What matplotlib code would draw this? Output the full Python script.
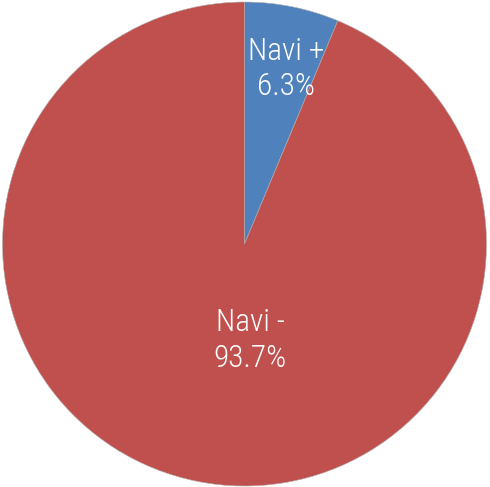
import matplotlib.pyplot as plt

labels = ["Navi +", "Navi -"]
shares = [6.3, 93.7]
colors = ["#4F81BD", "#C0504D"]
# label anchor points, in pie-radius units
label_pos = [(0.171, 0.723), (0.023, -0.40)]

W, H = 490, 487
cx, cy, r = 244.5, 244.0, 242.0

fig = plt.figure(figsize=(W / 100, H / 100), dpi=100)
ax = fig.add_axes([0, 0, 1, 1])
ax.pie(shares, colors=colors, startangle=90, counterclock=False, radius=1,
       wedgeprops=dict(edgecolor="#b0b0b0", linewidth=0.4))
for lab, s, (x, y) in zip(labels, shares, label_pos):
    ax.text(x, y, f"{lab}\n{s:.1f}%", color="white", fontsize=22.5,
            ha="center", va="center", linespacing=1.3, fontweight="light",
            family=["Liberation Sans Narrow", "Roboto Condensed", "Roboto",
                    "DejaVu Sans"])
ax.set_xlim(-cx / r, (W - cx) / r)
ax.set_ylim(-(H - cy) / r, cy / r)
ax.set_aspect("equal")
ax.axis("off")
fig.savefig("out.png", dpi=100)
